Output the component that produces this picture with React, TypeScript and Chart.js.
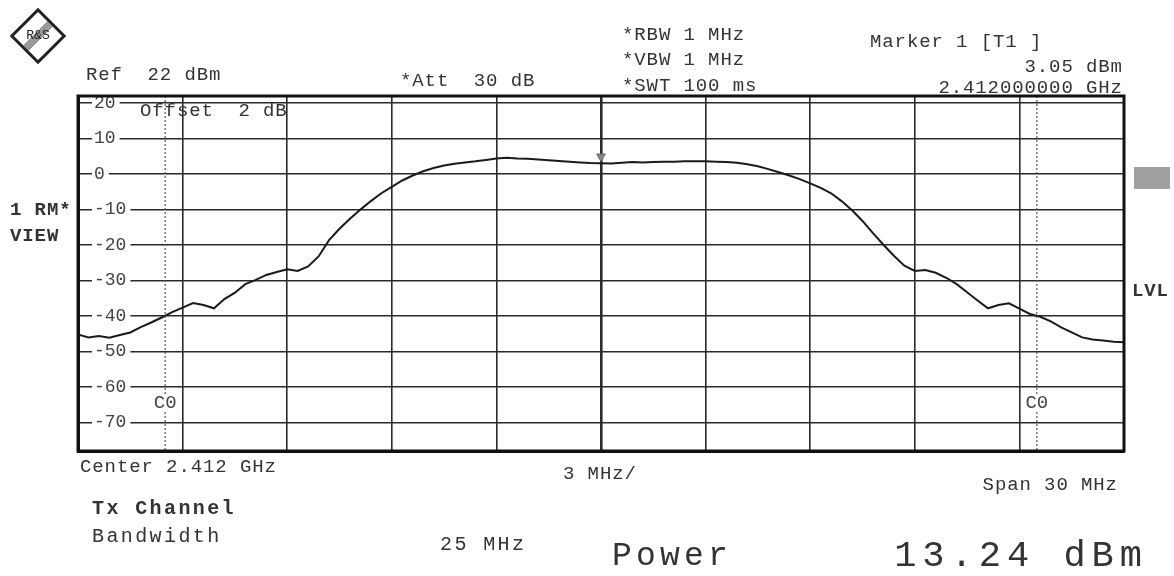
import React, { useEffect, useRef } from "react";
import { Chart, registerables } from "chart.js";

Chart.register(...registerables);

// Frequency offset from centre (MHz) and measured level (dBm)
const freqOffsetsMHz = [
  -15.0, -14.7, -14.4, -14.1, -13.8, -13.5, -13.2, -12.9, -12.6, -12.3,
  -12.0, -11.7, -11.4, -11.1, -10.8, -10.5, -10.2, -9.9, -9.6, -9.3,
  -9.0, -8.7, -8.4, -8.1, -7.8, -7.5, -7.2, -6.9, -6.6, -6.3,
  -6.0, -5.7, -5.4, -5.1, -4.8, -4.5, -4.2, -3.9, -3.6, -3.3,
  -3.0, -2.7, -2.4, -2.1, -1.8, -1.5, -1.2, -0.9, -0.6, -0.3,
  0.0, 0.3, 0.6, 0.9, 1.2, 1.5, 1.8, 2.1, 2.4, 2.7,
  3.0, 3.3, 3.6, 3.9, 4.2, 4.5, 4.8, 5.1, 5.4, 5.7,
  6.0, 6.3, 6.6, 6.9, 7.2, 7.5, 7.8, 8.1, 8.4, 8.7,
  9.0, 9.3, 9.6, 9.9, 10.2, 10.5, 10.8, 11.1, 11.4, 11.7,
  12.0, 12.3, 12.6, 12.9, 13.2, 13.5, 13.8, 14.1, 14.4, 14.7,
  15.0,
];
const traceDbm = [
  -45.2, -46.0, -45.6, -46.1, -45.3, -44.6, -43.1, -41.8, -40.4, -38.9,
  -37.6, -36.3, -36.9, -37.8, -35.2, -33.4, -31.0, -29.8, -28.4, -27.6,
  -26.8, -27.3, -26.0, -23.2, -18.6, -15.4, -12.6, -10.0, -7.6, -5.4,
  -3.6, -1.8, -0.4, 0.8, 1.7, 2.4, 2.9, 3.3, 3.6, 4.0,
  4.4, 4.6, 4.4, 4.3, 4.1, 3.9, 3.7, 3.5, 3.3, 3.1,
  3.05, 3.0, 3.2, 3.4, 3.3, 3.4, 3.5, 3.5, 3.6, 3.6,
  3.6, 3.5, 3.4, 3.2, 2.8, 2.2, 1.4, 0.5, -0.4, -1.4,
  -2.6, -3.9, -5.4, -7.6, -10.2, -13.2, -16.6, -19.9, -23.0, -25.8,
  -27.3, -27.0, -27.8, -29.2, -31.0, -33.3, -35.6, -37.8, -36.9, -36.4,
  -37.9, -39.4, -40.2, -41.5, -43.2, -44.6, -46.0, -46.6, -46.9, -47.2,
  -47.4,
];

const yTickValues = [20, 10, 0, -10, -20, -30, -40, -50, -60, -70];
const xGridMHz = [-15, -12, -9, -6, -3, 0, 3, 6, 9, 12, 15];
const refLevelDbm = 22;
const bottomLevelDbm = -78;
const channelEdgesMHz = [-12.5, 12.5];
const channelLabel = "C0";
const markerMHz = 0;
const markerDbm = 3.05;

const mono = "'Liberation Mono', 'DejaVu Sans Mono', monospace";

const channelLinesPlugin = {
  id: "channelLines",
  afterDatasetsDraw(chart: any) {
    const { ctx, chartArea, scales } = chart;
    ctx.save();
    channelEdgesMHz.forEach((f) => {
      const x = scales.x.getPixelForValue(f);
      ctx.strokeStyle = "#555";
      ctx.lineWidth = 1.2;
      ctx.setLineDash([2, 2]);
      ctx.beginPath();
      ctx.moveTo(x, chartArea.top);
      ctx.lineTo(x, chartArea.bottom);
      ctx.stroke();
      ctx.setLineDash([]);
      const y = scales.y.getPixelForValue(-64.5);
      ctx.font = `19px ${mono}`;
      const w = ctx.measureText(channelLabel).width + 4;
      ctx.fillStyle = "#fff";
      ctx.fillRect(x - w / 2, y - 9, w, 18);
      ctx.fillStyle = "#444";
      ctx.textAlign = "center";
      ctx.textBaseline = "middle";
      ctx.fillText(channelLabel, x, y);
    });
    ctx.restore();
  },
};

type T = { text: string; x: number; y: number; size?: number; bold?: boolean; right?: boolean; ls?: number };

const texts: T[] = [
  { text: "Ref  22 dBm", x: 86, y: 75 },
  { text: "*Att  30 dB", x: 400, y: 81 },
  { text: "*RBW 1 MHz", x: 622, y: 35 },
  { text: "*VBW 1 MHz", x: 622, y: 60 },
  { text: "*SWT 100 ms", x: 622, y: 86 },
  { text: "Marker 1 [T1 ]", x: 870, y: 42 },
  { text: "3.05 dBm", x: 1122, y: 67, right: true },
  { text: "2.412000000 GHz", x: 1122, y: 88, right: true },
  { text: "1 RM*", x: 10, y: 210, bold: true },
  { text: "VIEW", x: 10, y: 236, bold: true },
  { text: "LVL", x: 1132, y: 291, bold: true },
  { text: "Offset  2 dB", x: 140, y: 111 },
  { text: "Center 2.412 GHz", x: 80, y: 467 },
  { text: "3 MHz/", x: 563, y: 474 },
  { text: "Span 30 MHz", x: 1117, y: 485, right: true },
  { text: "Tx Channel", x: 92, y: 509, bold: true, size: 20, ls: 2.4 },
  { text: "Bandwidth", x: 92, y: 537, size: 20, ls: 2.4 },
  { text: "25 MHz", x: 440, y: 545, size: 20, ls: 2.4 },
  { text: "Power", x: 612, y: 556, size: 33, ls: 4.2 },
  { text: "13.24 dBm", x: 1142, y: 556, size: 37, ls: 6.0, right: true },
];

export default function App() {
  const ref = useRef<HTMLCanvasElement | null>(null);

  useEffect(() => {
    if (!ref.current) return;
    const chart = new Chart(ref.current, {
      type: "line",
      data: {
        datasets: [
          {
            data: freqOffsetsMHz.map((f, i) => ({ x: f, y: traceDbm[i] })),
            borderColor: "#1a1a1a",
            borderWidth: 2,
            pointRadius: 0,
            tension: 0,
          },
          {
            type: "scatter",
            data: [{ x: markerMHz, y: markerDbm + 1.9 }],
            pointStyle: "triangle",
            rotation: 180,
            pointRadius: 5,
            backgroundColor: "#888",
            borderColor: "#666",
            borderWidth: 1,
          } as any,
        ],
      },
      options: {
        responsive: false,
        animation: false,
        devicePixelRatio: 1,
        layout: { padding: { left: 78, right: 50, top: 96, bottom: 125 } },
        plugins: { legend: { display: false }, tooltip: { enabled: false } },
        scales: {
          x: {
            type: "linear",
            min: -15,
            max: 15,
            afterBuildTicks: (s: any) => {
              s.ticks = xGridMHz.map((v) => ({ value: v }));
            },
            afterFit: (s: any) => {
              s.height = 0;
            },
            ticks: { display: false },
            grid: {
              color: "#2a2a2a",
              lineWidth: (c: any) => (c.tick && c.tick.value === 0 ? 2.6 : 1.6),
              drawTicks: false,
            },
            border: { display: true, color: "#111", width: 3 },
          },
          y: {
            type: "linear",
            min: bottomLevelDbm,
            max: refLevelDbm,
            afterBuildTicks: (s: any) => {
              s.ticks = yTickValues.map((v) => ({ value: v }));
            },
            afterFit: (s: any) => {
              s.width = 0;
            },
            ticks: {
              mirror: true,
              padding: 16,
              color: "#444",
              font: { family: "Liberation Mono", size: 18 },
              showLabelBackdrop: true,
              backdropColor: "#fff",
              backdropPadding: { left: 2, right: 4, top: 0, bottom: 0 },
            },
            grid: { color: "#2a2a2a", lineWidth: 1.6, drawTicks: false },
            border: { display: true, color: "#111", width: 3 },
          },
        },
      },
      plugins: [
        channelLinesPlugin,
        {
          id: "frame",
          afterDraw(c: any) {
            const { ctx, chartArea } = c;
            ctx.save();
            ctx.strokeStyle = "#111";
            ctx.lineWidth = 3;
            ctx.strokeRect(chartArea.left, chartArea.top, chartArea.right - chartArea.left, chartArea.bottom - chartArea.top);
            ctx.restore();
          },
        },
      ],
    });
    return () => chart.destroy();
  }, []);

  return (
    <div style={{ position: "absolute", left: 0, top: 0, width: 1174, height: 576, background: "#fff", overflow: "hidden" }}>
      <canvas ref={ref} width={1174} height={576} style={{ position: "absolute", left: 0, top: 0 }} />
      {/* R&S logo */}
      <div
        style={{
          position: "absolute",
          left: 18,
          top: 16,
          width: 34,
          height: 34,
          border: "3px solid #222",
          transform: "rotate(45deg)",
          background: "linear-gradient(90deg, #fff 38%, #999 38%, #999 62%, #fff 62%)",
        }}
      >
        <div
          style={{
            transform: "rotate(-45deg)",
            fontFamily: mono,
            fontSize: 13,
            color: "#222",
            textAlign: "center",
            lineHeight: "34px",
          }}
        >
          R&amp;S
        </div>
      </div>
      {/* grey softkey box */}
      <div style={{ position: "absolute", left: 1134, top: 167, width: 36, height: 22, background: "#a0a0a0" }} />
      {texts.map((t, i) => {
        const size = t.size ?? 19;
        const ls = t.ls ?? 0.9;
        const style: React.CSSProperties = {
          position: "absolute",
          top: t.y - Math.round(size * 0.65),
          lineHeight: `${Math.round(size * 1.3)}px`,
          fontFamily: mono,
          fontSize: size,
          letterSpacing: ls,
          fontWeight: t.bold ? 700 : 400,
          color: "#333",
          whiteSpace: "pre",
        };
        if (t.right) style.right = 1174 - t.x - ls;
        else style.left = t.x;
        return (
          <div key={i} style={style}>
            {t.text}
          </div>
        );
      })}
    </div>
  );
}
